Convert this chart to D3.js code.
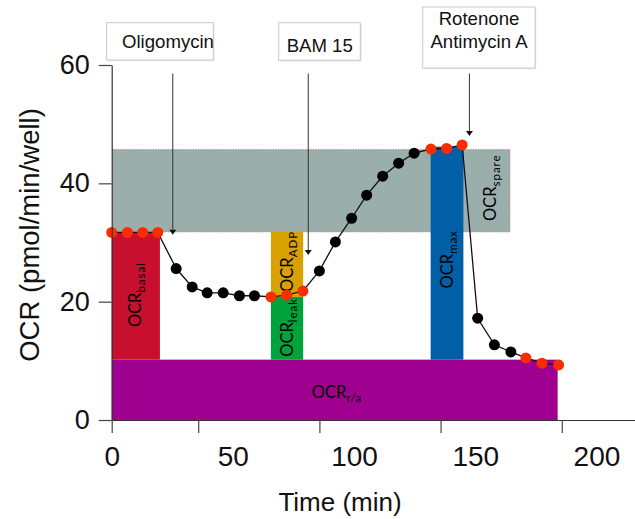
<!DOCTYPE html>
<html>
<head>
<meta charset="utf-8">
<script src="https://cdn.jsdelivr.net/npm/d3@7"></script>
<style>
  body { margin: 0; background: #fff; }
  svg { display: block; }
</style>
</head>
<body>
<svg id="chart" width="635" height="519"></svg>
<script>
// measurement times (min) and OCR readings (pmol/min/well)
const times = [0, 6.5, 12.8, 19, 26.6, 33.2, 39.4, 46, 52.7, 58.9, 65.7, 72.2, 78.9,
  85.7, 92.3, 99, 105.2, 111.8, 118.4, 124.8, 131.7, 138.2, 144.6, 151, 157.9, 164.7,
  170.9, 177.5, 184.4];
const ocr = [31.7, 31.7, 31.7, 31.7, 25.6, 22.5, 21.5, 21.5, 21.0, 21.0, 20.8, 21.1, 21.8,
  25.2, 30.1, 34.1, 38.0, 41.2, 43.4, 45.1, 45.8, 45.9, 46.5, 17.2, 12.7, 11.5,
  10.5, 9.6, 9.3];
// 1 = reading used for a rate (red), 0 = other reading (black)
const usedForRate = [1, 1, 1, 1, 0, 0, 0, 0, 0, 0, 1, 1, 1, 0, 0, 0, 0, 0, 0, 0, 1, 1, 1,
  0, 0, 0, 1, 1, 1];

// shaded OCR components
const regionNames = ['spare', 'basal', 'ADP', 'leak', 'max', 'r/a'];
const regionStart = [0.4, 0, 65.7, 65.7, 131.6, 0];
const regionEnd = [164.3, 19.9, 79.0, 79.0, 145.1, 184.0];
const regionLow = [31.8, 10.2, 20.8, 10.2, 10.2, 0];
const regionHigh = [45.7, 31.7, 31.8, 20.8, 46.2, 10.2];

// injections
const injectionNames = [['Oligomycin'], ['BAM 15'], ['Rotenone', 'Antimycin A']];
const injectionTimes = [25.2, 81.1, 147.6];
const arrowTipValues = [31.3, 27.9, 48.0];

// axes
const yTicks = [0, 20, 40, 60];
const xTickLabels = [0, 50, 100, 150, 200];
const xTickMarks = [0, 35.7, 85.7, 135.7, 185.7];

const regionColor = {
  spare: '#9aaeab', basal: '#c8102e', ADP: '#d8a100',
  leak: '#00a23a', max: '#005fa6', 'r/a': '#a0008f'
};
// label tweaks (px) relative to region centre
const labelShift = {
  spare: { dx: 4, dy: -3 }, basal: { dx: 0, dy: -1.5 }, ADP: { dx: 0, dy: -3 },
  leak: { dx: 0, dy: -1 }, max: { dx: 0, dy: 6 }, 'r/a': { dx: 0, dy: 3 }
};
// annotation boxes (px)
const boxes = [
  { x: 106.7, y: 22.7, w: 106.6, h: 37.3, tx: 122, ty: [48.3] },
  { x: 278.7, y: 22.7, w: 81.6, h: 37.6, tx: 319.7, ty: [51.7], mid: true },
  { x: 422.7, y: 7, w: 112.3, h: 61, tx: 479, ty: [25, 48.3], mid: true }
];

const svg = d3.select('#chart');
const axisFont = '"Liberation Sans", Arial, Helvetica, sans-serif';
const labelFont = 'Lato, "Open Sans", sans-serif';

const x = d3.scaleLinear().domain([0, 216]).range([111.7, 635.2]);
const y = d3.scaleLinear().domain([0, 60]).range([420, 65]);

const regions = regionNames.map((name, i) => ({
  name, t0: regionStart[i], t1: regionEnd[i], v0: regionLow[i], v1: regionHigh[i]
}));

// regions
svg.append('g')
  .selectAll('rect')
  .data(regions)
  .join('rect')
  .attr('x', (d) => x(d.t0))
  .attr('y', (d) => y(d.v1))
  .attr('width', (d) => x(d.t1) - x(d.t0))
  .attr('height', (d) => y(d.v0) - y(d.v1))
  .attr('fill', (d) => regionColor[d.name])
  .attr('stroke', (d) => (d.name === 'spare' ? '#b57878' : 'none'))
  .attr('stroke-width', 0.8)
  .attr('stroke-dasharray', '1.5,1');

// region labels
const labelG = svg.append('g')
  .attr('font-family', labelFont)
  .attr('fill', '#000');

const maxRegion = regions.find((r) => r.name === 'max');

regions.forEach((d) => {
  // spare label sits in the strip right of the max bar
  const left = d.name === 'spare' ? maxRegion.t1 : d.t0;
  const cx = (x(left) + x(d.t1)) / 2 + labelShift[d.name].dx;
  const cy = (y(d.v0) + y(d.v1)) / 2 + labelShift[d.name].dy;
  const horizontal = d.name === 'r/a';
  const t = labelG.append('text')
    .attr('text-anchor', 'middle')
    .attr('transform', horizontal
      ? `translate(${cx + 2},${cy})`
      : `translate(${cx},${cy}) rotate(-90)`)
    .attr('dy', '0.35em');
  t.append('tspan').attr('font-size', 16.5).text('OCR');
  t.append('tspan')
    .attr('font-size', 11.5)
    .attr('letter-spacing', horizontal ? 0.3 : 1)
    .attr('dy', '0.35em')
    .text(d.name);
});

// connecting line and readings
const points = times.map((t, i) => ({ t, v: ocr[i], rate: usedForRate[i] }));

svg.append('path')
  .datum(points)
  .attr('fill', 'none')
  .attr('stroke', '#111')
  .attr('stroke-width', 1.3)
  .attr('d', d3.line().x((d) => x(d.t)).y((d) => y(d.v)));

svg.append('g')
  .selectAll('circle')
  .data(points)
  .join('circle')
  .attr('cx', (d) => x(d.t))
  .attr('cy', (d) => y(d.v))
  .attr('r', 5.5)
  .attr('fill', (d) => (d.rate ? '#fc2c02' : '#000'));

// injection arrows
const arrowG = svg.append('g');
injectionTimes.forEach((t, i) => {
  const ax = x(t);
  const tip = y(arrowTipValues[i]);
  arrowG.append('line')
    .attr('x1', ax).attr('x2', ax)
    .attr('y1', 73.5).attr('y2', tip - 4)
    .attr('stroke', '#333')
    .attr('stroke-width', 1);
  arrowG.append('path')
    .attr('d', `M${ax - 3.5},${tip - 5}L${ax + 3.5},${tip - 5}L${ax},${tip}Z`)
    .attr('fill', '#111');
});

// injection boxes
const boxG = svg.append('g').attr('font-family', axisFont);
boxes.forEach((b, i) => {
  boxG.append('rect')
    .attr('x', b.x + 1.2).attr('y', b.y + 1.2)
    .attr('width', b.w).attr('height', b.h)
    .attr('fill', '#e4e4e4');
  boxG.append('rect')
    .attr('x', b.x).attr('y', b.y)
    .attr('width', b.w).attr('height', b.h)
    .attr('fill', '#fff')
    .attr('stroke', '#c9c9c9')
    .attr('stroke-width', 1);
  injectionNames[i].forEach((line, j) => {
    boxG.append('text')
      .attr('x', b.tx)
      .attr('y', b.ty[j])
      .attr('text-anchor', b.mid ? 'middle' : 'start')
      .attr('font-size', 18.6)
      .attr('fill', '#111')
      .text(line);
  });
});

// y axis
const yAxisG = svg.append('g')
  .attr('transform', `translate(${x(0)},0)`)
  .call(d3.axisLeft(y).tickValues(yTicks).tickSize(13).tickSizeOuter(0).tickPadding(9));

// x axis: tick marks
const xMarksG = svg.append('g')
  .attr('transform', `translate(0,${y(0)})`)
  .call(d3.axisBottom(x).tickValues(xTickMarks).tickSize(13).tickSizeOuter(0).tickFormat(''));

// x axis: tick labels
const xLabelsG = svg.append('g')
  .attr('transform', `translate(0,${y(0)})`)
  .call(d3.axisBottom(x).tickValues(xTickLabels).tickSize(0).tickPadding(26));
xLabelsG.select('.domain').remove();

[yAxisG, xMarksG, xLabelsG].forEach((g) => {
  g.selectAll('.domain').attr('stroke', '#333').attr('stroke-width', 1.2);
  g.selectAll('.tick line').attr('stroke', '#444').attr('stroke-width', 1.2);
  g.selectAll('.tick text')
    .attr('font-family', axisFont)
    .attr('fill', '#111');
});
yAxisG.selectAll('.tick text').attr('font-size', 27);
xLabelsG.selectAll('.tick text').attr('font-size', 28);

// axis titles
svg.append('text')
  .attr('x', 340)
  .attr('y', 511)
  .attr('text-anchor', 'middle')
  .attr('font-family', axisFont)
  .attr('font-size', 26)
  .attr('fill', '#111')
  .text('Time (min)');

svg.append('text')
  .attr('transform', 'translate(39,235) rotate(-90)')
  .attr('text-anchor', 'middle')
  .attr('font-family', axisFont)
  .attr('font-size', 27.5)
  .attr('fill', '#111')
  .text('OCR (pmol/min/well)');
</script>
</body>
</html>
